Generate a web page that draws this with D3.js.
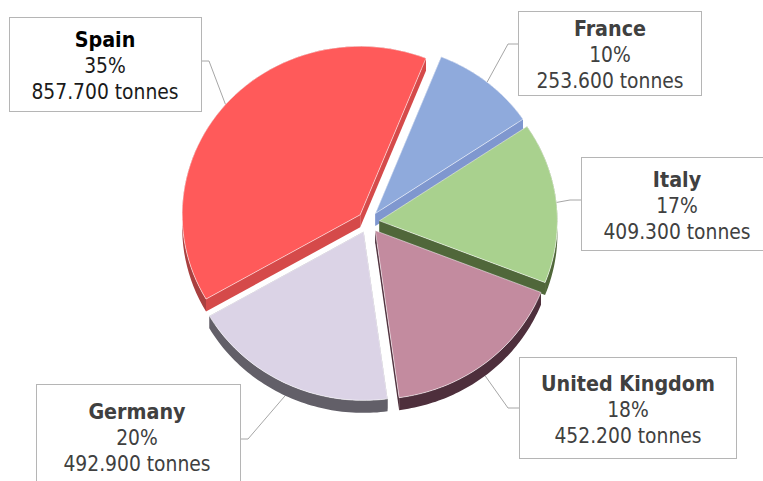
<!DOCTYPE html>
<html><head><meta charset="utf-8">
<script src="https://cdn.jsdelivr.net/npm/d3@7/dist/d3.min.js"></script>
<style>html,body{margin:0;background:#fff;overflow:hidden}svg{display:block}</style>
</head><body><svg id="c" width="763" height="481"></svg>
<script>
const categories = ["Spain","France","Italy","United Kingdom","Germany"];
const tonnes = [857.7,253.6,409.3,452.2,492.9];
const tonneLabels = ["857.700","253.600","409.300","452.200","492.900"];
const percents = [35,10,17,18,20];

// Reference's 3D rendering does not draw the slices in true proportion:
// a scale maps each pie boundary to its angle as seen on screen (degrees).
const viewBoundaries = [240,381.7,416,471.5,532.3,600];

const topColors  = ["#ff5a5a","#8faadc","#a9d18e","#c38b9f","#dbd3e6"];
const sideColors = ["#d54a4a","#7f97cf","#50673a","#4e2f3c","#625f68"];
const rimColors  = ["#a94040","#7f97cf","#50673a","#4e2f3c","#625f68"];
const boxes = [
  {x:9.5,y:17.5,w:192,h:94,cx:105,by:47,lead:209,ink:"#000",ink2:"#1a1a1a",side:"r",ly:61},
  {x:518.5,y:11.5,w:183,h:84,cx:610,by:36,lead:508,ink:"#404040",ink2:"#404040",side:"l",ly:44},
  {x:581.5,y:157.5,w:192,h:93,cx:677,by:186.5,lead:570,ink:"#404040",ink2:"#404040",side:"l",ly:200},
  {x:519.5,y:357.5,w:217,h:101,cx:628,by:391,lead:508,ink:"#404040",ink2:"#404040",side:"l",ly:408},
  {x:36.5,y:384.5,w:204,h:110,cx:137,by:419,lead:248,ink:"#404040",ink2:"#404040",side:"r",ly:439}
];
const font = "'DejaVu Sans Condensed','DejaVu Sans',sans-serif", fs = 20.8, nameFs = 21.3, lineH = 26;
const cx=368.5, cy=222, rx=178, ry=168.5, depth=12.5, explode=11;
const rad = d=>d*Math.PI/180;

const svg = d3.select("#c");
const pie = d3.pie().value(d=>d).sort(null).startAngle(rad(240)).endAngle(rad(600));
const arcs = pie(tonnes);
const domain = arcs.map(a=>a.startAngle).concat(arcs[arcs.length-1].endAngle);
const toView = d3.scaleLinear().domain(domain).range(viewBoundaries);

const slices = arcs.map((a,i)=>{
  const s = toView(a.startAngle), e = toView(a.endAngle), m=(s+e)/2;
  const ox = cx+explode*Math.sin(rad(m)), oy = cy-explode*Math.cos(rad(m));
  const rim = t=>[ox+rx*Math.sin(rad(t)), oy-ry*Math.cos(rad(t))];
  const ts = d3.range(0,61).map(k=>s+(e-s)*k/60);
  return {i,s,e,m,ox,oy,rim,pts:ts.map(rim)};
});

const line = d3.line();
const down = p=>[p[0],p[1]+depth];

// Leader lines, tucked behind the pie
const leaders = svg.append("g");
slices.forEach(d=>{
  const b = boxes[d.i], edge = b.side==="r" ? b.x+b.w : b.x;
  const low = Math.cos(rad(d.m))<0 ? depth : 0;
  const [ax,ay] = d.rim(d.m);
  leaders.append("path").attr("fill","none").attr("stroke","#a6a6a6").attr("stroke-width",1)
    .attr("d",line([[edge,b.ly],[b.lead,b.ly],[ax,ay+low]]));
});

// Pie: back to front
const order = [1,2,0,3,4];
const pieG = svg.append("g");
order.forEach(k=>{
  const d = slices[k], g = pieG.append("g");
  const apex=[d.ox,d.oy];
  g.append("path").attr("fill",rimColors[k])
    .attr("d",line(d.pts.concat(d.pts.map(down).reverse()))+"Z");
  g.append("path").attr("fill",sideColors[k])
    .attr("d",line([apex,d.pts[0],down(d.pts[0]),down(apex)])+"Z");
  g.append("path").attr("fill",sideColors[k])
    .attr("d",line([apex,d.pts[60],down(d.pts[60]),down(apex)])+"Z");
  g.append("path").attr("fill",topColors[k])
    .attr("stroke","#fff").attr("stroke-opacity",.55).attr("stroke-width",1)
    .attr("stroke-linejoin","round")
    .attr("d",line([apex].concat(d.pts))+"Z");
});

// Callout boxes
boxes.forEach((b,i)=>{
  const g = svg.append("g");
  g.append("rect").attr("x",b.x).attr("y",b.y).attr("width",b.w).attr("height",b.h)
    .attr("fill","#fff").attr("stroke","#b5b5b5").attr("stroke-width",1);
  const t = g.append("g").attr("text-anchor","middle").attr("font-family",font).attr("font-size",fs);
  t.append("text").attr("x",b.cx).attr("y",b.by).attr("font-weight",700).attr("font-size",nameFs).attr("fill",b.ink).text(categories[i]);
  t.append("text").attr("x",b.cx).attr("y",b.by+lineH).attr("fill",b.ink2).text(percents[i]+"%");
  t.append("text").attr("x",b.cx).attr("y",b.by+2*lineH).attr("fill",b.ink2).text(tonneLabels[i]+" tonnes");
});
</script></body></html>
